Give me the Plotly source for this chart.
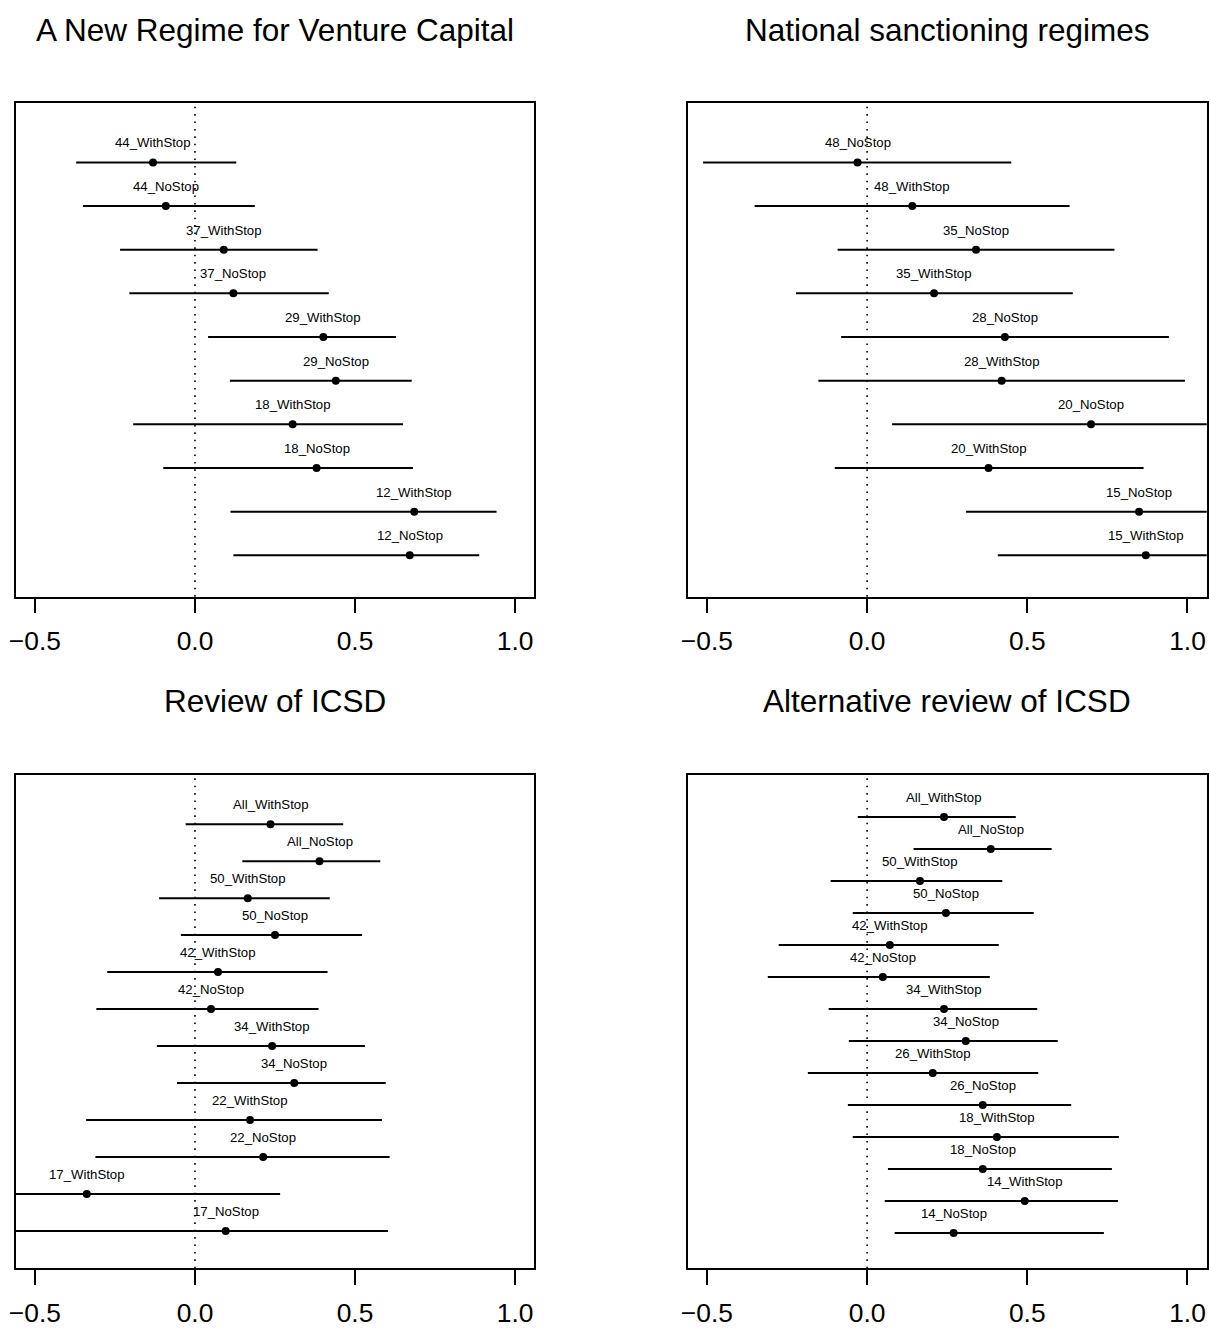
import plotly.graph_objects as go

W, H = 1209, 1328
FONT = "Liberation Sans, Arial, Helvetica, sans-serif"

# ---------------- data (labels listed top to bottom) ----------------
p1_title = "A New Regime for Venture Capital"
p1_labels = ["44_WithStop", "44_NoStop", "37_WithStop", "37_NoStop", "29_WithStop",
             "29_NoStop", "18_WithStop", "18_NoStop", "12_WithStop", "12_NoStop"]
p1_est = [-0.131, -0.091, 0.090, 0.120, 0.401, 0.440, 0.305, 0.380, 0.685, 0.671]
p1_lo = [-0.371, -0.350, -0.234, -0.205, 0.041, 0.109, -0.193, -0.099, 0.111, 0.120]
p1_hi = [0.129, 0.187, 0.383, 0.418, 0.628, 0.677, 0.650, 0.681, 0.942, 0.888]

p2_title = "National sanctioning regimes"
p2_labels = ["48_NoStop", "48_WithStop", "35_NoStop", "35_WithStop", "28_NoStop",
             "28_WithStop", "20_NoStop", "20_WithStop", "15_NoStop", "15_WithStop"]
p2_est = [-0.030, 0.141, 0.340, 0.209, 0.430, 0.420, 0.699, 0.379, 0.849, 0.870]
p2_lo = [-0.512, -0.351, -0.092, -0.222, -0.081, -0.152, 0.078, -0.101, 0.309, 0.408]
p2_hi = [0.450, 0.632, 0.772, 0.642, 0.942, 0.992, 1.320, 0.863, 1.390, 1.330]

p3_title = "Review of ICSD"
p3_labels = ["All_WithStop", "All_NoStop", "50_WithStop", "50_NoStop", "42_WithStop",
             "42_NoStop", "34_WithStop", "34_NoStop", "22_WithStop", "22_NoStop",
             "17_WithStop", "17_NoStop"]
p3_est = [0.236, 0.389, 0.165, 0.250, 0.072, 0.050, 0.241, 0.310, 0.172, 0.213, -0.338, 0.096]
p3_lo = [-0.029, 0.148, -0.112, -0.044, -0.274, -0.308, -0.119, -0.056, -0.340, -0.311, -0.942, -0.650]
p3_hi = [0.463, 0.579, 0.421, 0.522, 0.414, 0.386, 0.531, 0.596, 0.584, 0.608, 0.266, 0.603]

p4_title = "Alternative review of ICSD"
p4_labels = ["All_WithStop", "All_NoStop", "50_WithStop", "50_NoStop", "42_WithStop",
             "42_NoStop", "34_WithStop", "34_NoStop", "26_WithStop", "26_NoStop",
             "18_WithStop", "18_NoStop", "14_WithStop", "14_NoStop"]
p4_est = [0.240, 0.386, 0.165, 0.246, 0.071, 0.049, 0.240, 0.308, 0.205, 0.361, 0.405, 0.361, 0.492, 0.270]
p4_lo = [-0.029, 0.145, -0.114, -0.045, -0.276, -0.310, -0.120, -0.057, -0.185, -0.060, -0.045, 0.065, 0.055, 0.086]
p4_hi = [0.464, 0.576, 0.422, 0.520, 0.411, 0.383, 0.531, 0.595, 0.534, 0.637, 0.786, 0.764, 0.783, 0.739]

tick_vals = [-0.5, 0.0, 0.5, 1.0]
tick_text = ["\u22120.5", "0.0", "0.5", "1.0"]

# ---------------- layout geometry ----------------
def px_x(a, b):
    return [a / W, b / W]

def px_y(top, bottom):
    return [1 - bottom / H, 1 - top / H]

panels = [
    dict(title=p1_title, labels=p1_labels, est=p1_est, lo=p1_lo, hi=p1_hi,
         xd=px_x(15.7, 534.3), yd=px_y(103, 596.7), yr=[0.052, 11.36], ty=30),
    dict(title=p2_title, labels=p2_labels, est=p2_est, lo=p2_lo, hi=p2_hi,
         xd=px_x(687.7, 1206.7), yd=px_y(103, 596.7), yr=[0.052, 11.36], ty=30),
    dict(title=p3_title, labels=p3_labels, est=p3_est, lo=p3_lo, hi=p3_hi,
         xd=px_x(15.7, 534.3), yd=px_y(775, 1268.3), yr=[-0.01, 13.33], ty=701),
    dict(title=p4_title, labels=p4_labels, est=p4_est, lo=p4_lo, hi=p4_hi,
         xd=px_x(687.7, 1206.7), yd=px_y(775, 1268.3), yr=[-0.10, 15.31], ty=701),
]

fig = go.Figure()
annotations = []
shapes = []

for k, p in enumerate(panels, start=1):
    sfx = "" if k == 1 else str(k)
    xa, ya = "x" + sfx, "y" + sfx
    n = len(p["labels"])
    rows = [n - i for i in range(n)]

    segx, segy = [], []
    for lo, hi, r in zip(p["lo"], p["hi"], rows):
        segx += [lo, hi, None]
        segy += [r, r, None]
    fig.add_trace(go.Scatter(x=segx, y=segy, mode="lines", xaxis=xa, yaxis=ya,
                             line=dict(color="black", width=2), showlegend=False,
                             hoverinfo="skip"))
    fig.add_trace(go.Scatter(x=p["est"], y=rows, mode="markers", xaxis=xa, yaxis=ya,
                             marker=dict(color="black", size=8), showlegend=False,
                             cliponaxis=True))
    for lab, e, r in zip(p["labels"], p["est"], rows):
        annotations.append(dict(x=e, y=r, xref=xa, yref=ya, text=lab, showarrow=False,
                                yanchor="middle", xanchor="center", yshift=19.5,
                                font=dict(family=FONT, size=13.2, color="black")))
    shapes.append(dict(type="line", xref=xa, yref=ya + " domain", x0=0, x1=0, y0=0, y1=1,
                       line=dict(color="black", width=1.6, dash="1.6px,5.8px"), layer="below"))
    annotations.append(dict(x=sum(p["xd"]) / 2, y=1 - p["ty"] / H, xref="paper", yref="paper",
                            text=p["title"], showarrow=False, xanchor="center", yanchor="middle",
                            font=dict(family=FONT, size=31.5, color="black")))

    axx = dict(domain=p["xd"], range=[-0.56, 1.06], showline=True, mirror=True,
               linecolor="black", linewidth=1.5, ticks="outside", ticklen=15, tickwidth=1.5,
               tickcolor="black", tickvals=tick_vals, ticktext=tick_text,
               tickfont=dict(family=FONT, size=26.4, color="black"), showgrid=False,
               zeroline=False, anchor=ya, ticklabelstandoff=5, fixedrange=True,
               automargin=False)
    axy = dict(domain=p["yd"], range=p["yr"], showline=True, mirror=True, linecolor="black",
               linewidth=1.5, ticks="", showticklabels=False, showgrid=False, zeroline=False,
               anchor=xa, fixedrange=True, automargin=False)
    fig.layout["xaxis" + sfx] = axx
    fig.layout["yaxis" + sfx] = axy

fig.update_layout(template="none", width=W, height=H, margin=dict(l=0, r=0, t=0, b=0, pad=0),
                  paper_bgcolor="white", plot_bgcolor="white",
                  annotations=annotations, shapes=shapes, showlegend=False,
                  font=dict(family=FONT, color="black"))

fig.write_html("out.html", config={"displayModeBar": False})
